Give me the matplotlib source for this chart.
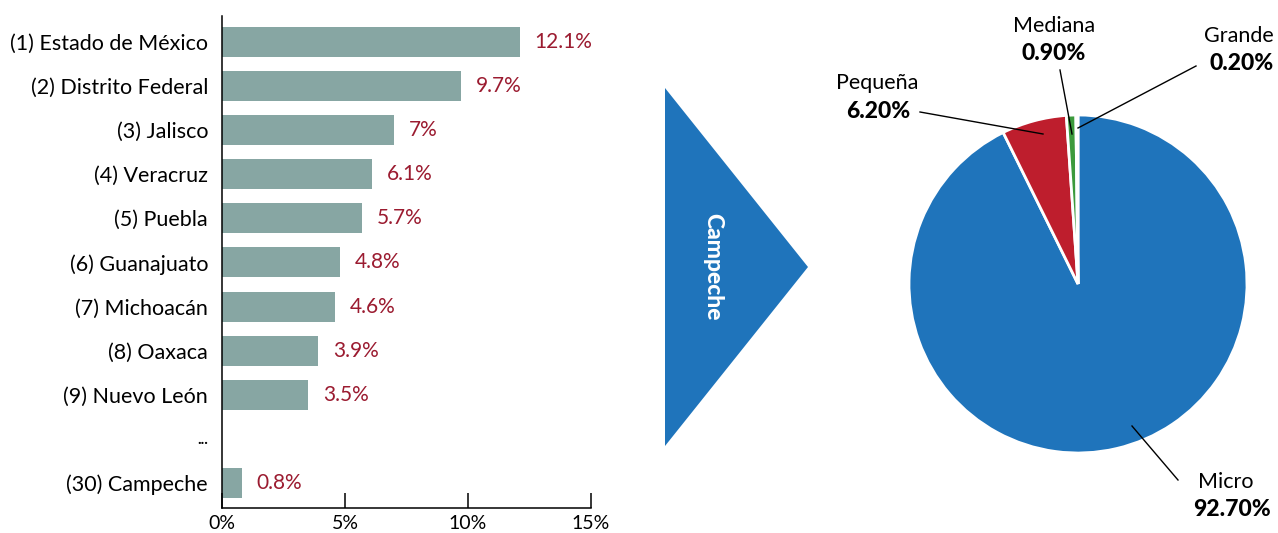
import matplotlib.pyplot as plt
from matplotlib.patches import Polygon

plt.rcParams['font.family'] = ['Lato', 'DejaVu Sans']

# bar chart data
states = ['(1) Estado de México', '(2) Distrito Federal', '(3) Jalisco', '(4) Veracruz',
          '(5) Puebla', '(6) Guanajuato', '(7) Michoacán', '(8) Oaxaca',
          '(9) Nuevo León', '...', '(30) Campeche']
shares = [12.1, 9.7, 7.0, 6.1, 5.7, 4.8, 4.6, 3.9, 3.5, 0.0, 0.8]
share_labels = ['12.1%', '9.7%', '7%', '6.1%', '5.7%', '4.8%', '4.6%', '3.9%', '3.5%', '', '0.8%']
x_ticks = [0, 5, 10, 15]
x_tick_labels = ['0%', '5%', '10%', '15%']

# pie data (Campeche, by company size)
sizes = ['Micro', 'Pequeña', 'Mediana', 'Grande']
size_shares = [92.7, 6.2, 0.9, 0.2]
size_labels = ['92.70%', '6.20%', '0.90%', '0.20%']

W, H = 1278, 533
fig = plt.figure(figsize=(W / 100, H / 100), dpi=100)

bar_color = '#87a6a3'
val_color = '#9b1b30'

# ---- left: horizontal bars
ax = fig.add_axes([222 / W, 1 - 508 / H, (591 - 222) / W, (508 - 16) / H])
ypos = list(range(len(states)))
ax.barh(ypos, shares, height=0.68, color=bar_color)
for y, v, lab in zip(ypos, shares, share_labels):
    if lab:
        ax.annotate(lab, (v, y), xytext=(10.8, 0), textcoords='offset points',
                    va='center', ha='left', color=val_color, fontsize=15)
ax.set_ylim(len(states) - 1 + 0.57, -0.59)
ax.set_xlim(0, 15)
ax.set_yticks(ypos)
ax.set_yticklabels(states, fontsize=15.5)
ax.tick_params(axis='y', length=0, pad=10)
dots = ax.yaxis.get_ticklabels()[9]
dots.set_fontsize(11)
dots.set_fontweight('bold')
ax.set_xticks(x_ticks)
ax.set_xticklabels(x_tick_labels, fontsize=14)
ax.tick_params(axis='x', direction='in', length=10.8, width=1.1, pad=5)
for s in ['top', 'right']:
    ax.spines[s].set_visible(False)
for s in ['left', 'bottom']:
    ax.spines[s].set_linewidth(1.1)

# ---- right: arrow triangle + pie, in pixel coordinates
ax2 = fig.add_axes([650 / W, 0, (W - 650) / W, 1])

blue = '#1f74bb'
tri = Polygon([(665, H - 88), (665, H - 446), (808, H - 267)], closed=True,
              color=blue, lw=0)
ax2.add_patch(tri)
ax2.text(713, H - 267, 'Campeche', rotation=-90, color='white', fontsize=16.5,
         fontweight='black', ha='center', va='center')

cx, cy, r = 1078, H - 284, 169
wedges, _ = ax2.pie(size_shares, colors=[blue, '#be1e2d', '#3c9a3c', 'white'],
                    startangle=90, counterclock=False, center=(cx, cy), radius=r,
                    wedgeprops=dict(edgecolor='white', linewidth=2), frame=True)
ax2.set_xlim(650, W)
ax2.set_ylim(0, H)
ax2.set_aspect('equal', adjustable='box')
ax2.axis('off')

# label positions (name, value text, leader start, leader end), pixel coords
label_pos = {
    'Micro': ((1226, 482), (1232, 510), (1178, 480), (1132, 426)),
    'Pequeña': ((877, 83), (878, 112), (920, 112), (1043, 134)),
    'Mediana': ((1054, 26), (1054, 54), (1060, 70), (1072, 134)),
    'Grande': ((1239, 36), (1242, 64), (1196, 66), (1078, 128)),
}
for name, lab in zip(sizes, size_labels):
    (nx, ny), (vx, vy), (sx, sy), (ex, ey) = label_pos[name]
    ax2.text(nx, H - ny, name, ha='center', va='center', fontsize=15.5)
    ax2.text(vx, H - vy, lab, ha='center', va='center', fontsize=16.5, fontweight='black')
    ax2.plot([sx, ex], [H - sy, H - ey], color='black', lw=1)

fig.savefig('out.png', dpi=100)
